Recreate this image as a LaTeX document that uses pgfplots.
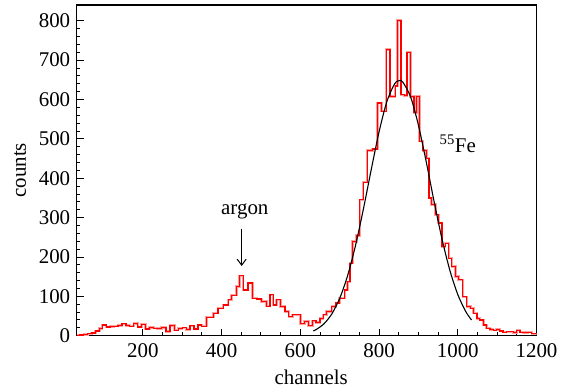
\documentclass[border=0pt]{standalone}
\usepackage{fontspec}
\setmainfont{Liberation Serif}
\usepackage{pgfplots}
\pgfplotsset{compat=1.18}
\usetikzlibrary{arrows.meta}
\newcommand{\fs}{\fontsize{21}{25}\selectfont}
\definecolor{histred}{RGB}{255,0,0}
\definecolor{histpink}{RGB}{255,160,160}
\pgfplotstableread{
ch cnt
32 1
40 2
50 3
60 5
70 7
80 12
90 18
97 27
107 22
117 23
127 24
137 26
147 30
157 26
167 24
177 31
187 22
197 29
207 17
217 21
227 19
237 18
247 21
259 11
269 26
280 14
290 18
300 20
310 16
320 25
330 17
340 27
350 24
362 47
379 57
391 70
404 78
417 91
425 103
438 125
446 152
455 116
467 134
479 95
490 93
501 87
514 75
523 104
531 78
540 91
550 74
561 61
571 48
580 53
600 30
611 36
621 25
631 38
640 34
650 44
658 53
667 61
680 74
690 83
700 95
713 116
720 137
726 184
733 239
743 255
751 345
760 390
770 470
783 474
796 591
806 570
818 727
828 608
841 634
847 801
856 612
864 610
871 720
880 608
889 566
895 608
903 494
911 470
921 451
927 350
933 333
943 307
951 286
960 226
968 235
977 197
985 176
994 150
1002 142
1013 99
1023 74
1032 70
1040 57
1049 44
1056 40
1065 27
1073 19
1082 16
1090 14
1098 16
1107 12
1115 9
1124 10
1141 8
1150 14
1158 9
1167 8
1179 9
1188 5
1200 5
}\histdata
\begin{document}
\begin{tikzpicture}
\begin{axis}[name=A, scale only axis, width=459.8bp, height=330.7bp,
 xmin=32, xmax=1200, ymin=0, ymax=840,
 xtick={200,400,...,1200}, ytick={0,100,...,800},
 minor x tick num=3, minor y tick num=4,
 tick pos=left, tick align=inside,
 major tick length=7bp, minor tick length=3.5bp,
 every tick/.style={black, line width=0.9bp},
 axis line style={line width=1.2bp},
 /pgf/number format/assume math mode=true,
 /pgf/number format/set thousands separator={},
 xticklabel={\pgfmathprintnumber{\tick}},
 yticklabel={\pgfmathprintnumber{\tick}},
 tick label style={font=\fs},
 xticklabel style={yshift=-4bp},
 yticklabel style={xshift=-3bp},
 xlabel={channels}, ylabel={counts},
 label style={font=\fs},
 xlabel style={at={(axis description cs:0.51,-0.147)}, anchor=base},
 ylabel style={at={(axis description cs:-0.123,0.5)}, anchor=center},
]
\addplot[const plot mark left, draw=histpink, line width=2.4bp, no marks] table[x=ch, y=cnt] {\histdata};
\addplot[const plot mark left, draw=histred, line width=1.2bp, no marks] table[x=ch, y=cnt] {\histdata};
\addplot[black, line width=1.1bp, smooth, no marks] coordinates {
(633,12.0) (640,15.4) (660,30.1) (680,55.2) (700,94.7) (720,152.0) (740,228.1) (760,320.3)
(780,420.9) (800,517.4) (820,595.1) (840,640.3) (852,648) (860,644.6) (880,607.1) (900,534.9)
(920,441.0) (940,340.1) (960,245.4) (980,165.7) (1000,104.7) (1020,61.8) (1035,39.9)
};
\draw[-{Straight Barb[length=6bp,width=9bp]}, line width=1bp] (axis cs:451,272) -- (axis cs:451,177);
\node[font=\fs] at (axis cs:459,317) {argon};
\node[font=\fs] at (axis cs:1000,487) {\textsuperscript{55}Fe};
\end{axis}
\pgfresetboundingbox
\path[use as bounding box] ([xshift=-76.7bp,yshift=-55.3bp]A.south west) rectangle ([xshift=28.5bp,yshift=5bp]A.north east);
\end{tikzpicture}
\end{document}
